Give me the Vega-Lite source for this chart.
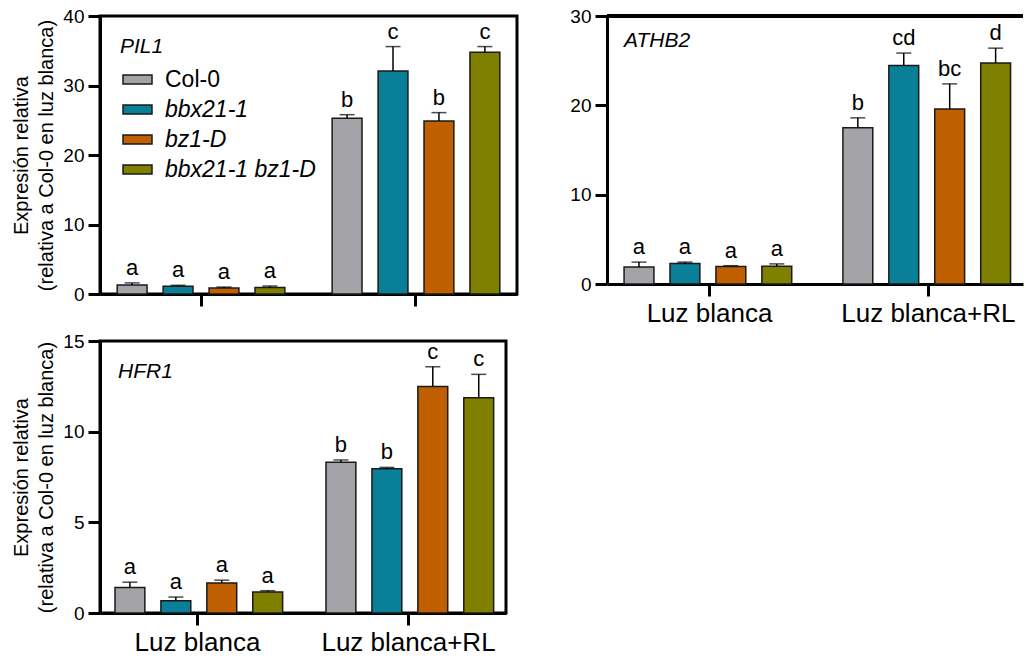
{
  "$schema": "https://vega.github.io/schema/vega-lite/v6.json",
  "padding": {"left": 10, "top": 5, "right": 0, "bottom": 0},
  "autosize": {"type": "pad"},
  "background": "white",
  "config": {
    "font": "Liberation Sans",
    "view": {"stroke": "black", "strokeWidth": 3},
    "axis": {
      "domainColor": "black", "domainWidth": 3, "tickColor": "black", "tickWidth": 3, "tickSize": 12,
      "labelFontSize": 19, "labelColor": "black", "labelPadding": 4, "grid": false,
      "titleFontSize": 20, "titleFontWeight": "normal", "titleColor": "black", "titleLineHeight": 25, "titlePadding": 6
    },
    "axisX": {"labelFontSize": 26, "labelPadding": 4, "labelAngle": 0, "title": null},
    "text": {"color": "black"},
    "title": {"anchor": "start", "frame": "group", "fontSize": 21, "fontStyle": "italic", "fontWeight": "normal", "color": "black", "baseline": "alphabetic"}
  },
  "datasets": {
    "expr": [
      {"gene": "PIL1", "light": "Luz blanca", "genotype": "Col-0", "value": 1.3, "error_top": 1.6, "letter": "a"},
      {"gene": "PIL1", "light": "Luz blanca", "genotype": "bbx21-1", "value": 1.1, "error_top": 1.25, "letter": "a"},
      {"gene": "PIL1", "light": "Luz blanca", "genotype": "bz1-D", "value": 0.85, "error_top": 1.0, "letter": "a"},
      {"gene": "PIL1", "light": "Luz blanca", "genotype": "bbx21-1 bz1-D", "value": 0.95, "error_top": 1.15, "letter": "a"},
      {"gene": "PIL1", "light": "Luz blanca+RL", "genotype": "Col-0", "value": 25.3, "error_top": 25.8, "letter": "b"},
      {"gene": "PIL1", "light": "Luz blanca+RL", "genotype": "bbx21-1", "value": 32.1, "error_top": 35.6, "letter": "c"},
      {"gene": "PIL1", "light": "Luz blanca+RL", "genotype": "bz1-D", "value": 24.9, "error_top": 26.1, "letter": "b"},
      {"gene": "PIL1", "light": "Luz blanca+RL", "genotype": "bbx21-1 bz1-D", "value": 34.8, "error_top": 35.6, "letter": "c"},
      {"gene": "ATHB2", "light": "Luz blanca", "genotype": "Col-0", "value": 1.9, "error_top": 2.45, "letter": "a"},
      {"gene": "ATHB2", "light": "Luz blanca", "genotype": "bbx21-1", "value": 2.3, "error_top": 2.45, "letter": "a"},
      {"gene": "ATHB2", "light": "Luz blanca", "genotype": "bz1-D", "value": 1.95, "error_top": 2.05, "letter": "a"},
      {"gene": "ATHB2", "light": "Luz blanca", "genotype": "bbx21-1 bz1-D", "value": 2.0, "error_top": 2.25, "letter": "a"},
      {"gene": "ATHB2", "light": "Luz blanca+RL", "genotype": "Col-0", "value": 17.5, "error_top": 18.6, "letter": "b"},
      {"gene": "ATHB2", "light": "Luz blanca+RL", "genotype": "bbx21-1", "value": 24.45, "error_top": 25.85, "letter": "cd"},
      {"gene": "ATHB2", "light": "Luz blanca+RL", "genotype": "bz1-D", "value": 19.6, "error_top": 22.4, "letter": "bc"},
      {"gene": "ATHB2", "light": "Luz blanca+RL", "genotype": "bbx21-1 bz1-D", "value": 24.75, "error_top": 26.4, "letter": "d"},
      {"gene": "HFR1", "light": "Luz blanca", "genotype": "Col-0", "value": 1.4, "error_top": 1.7, "letter": "a"},
      {"gene": "HFR1", "light": "Luz blanca", "genotype": "bbx21-1", "value": 0.68, "error_top": 0.88, "letter": "a"},
      {"gene": "HFR1", "light": "Luz blanca", "genotype": "bz1-D", "value": 1.66, "error_top": 1.81, "letter": "a"},
      {"gene": "HFR1", "light": "Luz blanca", "genotype": "bbx21-1 bz1-D", "value": 1.16, "error_top": 1.23, "letter": "a"},
      {"gene": "HFR1", "light": "Luz blanca+RL", "genotype": "Col-0", "value": 8.31, "error_top": 8.44, "letter": "b"},
      {"gene": "HFR1", "light": "Luz blanca+RL", "genotype": "bbx21-1", "value": 7.96, "error_top": 8.03, "letter": "b"},
      {"gene": "HFR1", "light": "Luz blanca+RL", "genotype": "bz1-D", "value": 12.49, "error_top": 13.58, "letter": "c"},
      {"gene": "HFR1", "light": "Luz blanca+RL", "genotype": "bbx21-1 bz1-D", "value": 11.87, "error_top": 13.16, "letter": "c"}
    ]
  },
  "resolve": {"legend": {"color": "independent"}},
  "spacing": 50,
  "hconcat": [
    {
      "spacing": 21,
      "resolve": {"legend": {"color": "independent"}},
      "vconcat": [
        {
          "width": 417, "height": 278,
          "data": {"name": "expr"},
          "transform": [{"filter": "datum.gene === 'PIL1'"}],
          "title": {"text": "PIL1", "offset": -50, "dx": 20},
          "encoding": {
            "x": {"field": "light", "type": "nominal", "sort": ["Luz blanca", "Luz blanca+RL"],
                  "scale": {"paddingInner": 0.22, "paddingOuter": 0.08},
                  "axis": {"labels": false}},
            "xOffset": {"field": "genotype", "type": "nominal", "sort": ["Col-0", "bbx21-1", "bz1-D", "bbx21-1 bz1-D"],
                        "scale": {"paddingInner": 0.35, "paddingOuter": 0}},
            "y": {"field": "value", "type": "quantitative", "scale": {"domain": [0, 40]},
                  "axis": {"values": [0, 10, 20, 30, 40], "title": ["Expresión relativa", "(relativa a Col-0 en luz blanca)"]}}
          },
          "layer": [
            {
              "mark": {"type": "bar", "stroke": "#1a1a1a", "strokeWidth": 1.5},
              "encoding": {
                "color": {"field": "genotype", "type": "nominal",
                          "scale": {"domain": ["Col-0", "bbx21-1", "bz1-D", "bbx21-1 bz1-D"], "range": ["#A3A3A8", "#0A7F98", "#C05F00", "#7F7F00"]},
                          "legend": {"orient": "none", "legendX": 22, "legendY": 48, "title": null,
                                     "symbolType": "M-1,-0.31H1V0.31H-1Z", "symbolSize": 841,
                                     "symbolStrokeColor": "#1a1a1a", "symbolStrokeWidth": 1.5,
                                     "labelFontSize": 23, "labelColor": "black", "labelOffset": 12, "rowPadding": 2,
                                     "encode": {"labels": {"update": {"fontStyle": {"signal": "datum.value === 'Col-0' ? 'normal' : 'italic'"}}}}}}
              }
            },
            {
              "mark": {"type": "rule", "color": "black", "strokeWidth": 1.5},
              "encoding": {"y2": {"field": "error_top"}}
            },
            {
              "mark": {"type": "tick", "color": "black", "size": 15, "thickness": 1.5},
              "encoding": {"y": {"field": "error_top", "type": "quantitative"}}
            },
            {
              "mark": {"type": "text", "fontSize": 22, "baseline": "alphabetic", "dy": -8},
              "encoding": {"y": {"field": "error_top", "type": "quantitative"}, "text": {"field": "letter"}}
            }
          ]
        },
        {
          "width": 406, "height": 272,
          "data": {"name": "expr"},
          "transform": [{"filter": "datum.gene === 'HFR1'"}],
          "title": {"text": "HFR1", "offset": -50, "dx": 18},
          "encoding": {
            "x": {"field": "light", "type": "nominal", "sort": ["Luz blanca", "Luz blanca+RL"],
                  "scale": {"paddingInner": 0.218, "paddingOuter": 0.071}},
            "xOffset": {"field": "genotype", "type": "nominal", "sort": ["Col-0", "bbx21-1", "bz1-D", "bbx21-1 bz1-D"],
                        "scale": {"paddingInner": 0.35, "paddingOuter": 0}},
            "y": {"field": "value", "type": "quantitative", "scale": {"domain": [0, 15]},
                  "axis": {"values": [0, 5, 10, 15], "title": ["Expresión relativa", "(relativa a Col-0 en luz blanca)"]}}
          },
          "layer": [
            {
              "mark": {"type": "bar", "stroke": "#1a1a1a", "strokeWidth": 1.5},
              "encoding": {
                "color": {"field": "genotype", "type": "nominal",
                          "scale": {"domain": ["Col-0", "bbx21-1", "bz1-D", "bbx21-1 bz1-D"], "range": ["#A3A3A8", "#0A7F98", "#C05F00", "#7F7F00"]},
                          "legend": null}
              }
            },
            {
              "mark": {"type": "rule", "color": "black", "strokeWidth": 1.5},
              "encoding": {"y2": {"field": "error_top"}}
            },
            {
              "mark": {"type": "tick", "color": "black", "size": 15, "thickness": 1.5},
              "encoding": {"y": {"field": "error_top", "type": "quantitative"}}
            },
            {
              "mark": {"type": "text", "fontSize": 22, "baseline": "alphabetic", "dy": -8},
              "encoding": {"y": {"field": "error_top", "type": "quantitative"}, "text": {"field": "letter"}}
            }
          ]
        }
      ]
    },
    {
      "width": 416, "height": 268,
      "view": {"stroke": null},
      "data": {"name": "expr"},
      "transform": [{"filter": "datum.gene === 'ATHB2'"}],
      "title": {"text": "ATHB2", "offset": -44, "dx": 17},
      "layer": [
        {
          "mark": {"type": "bar", "stroke": "#1a1a1a", "strokeWidth": 1.5},
          "encoding": {
            "x": {"field": "light", "type": "nominal", "sort": ["Luz blanca", "Luz blanca+RL"],
                  "scale": {"paddingInner": 0.219, "paddingOuter": 0.06, "align": 0.65}},
            "xOffset": {"field": "genotype", "type": "nominal", "sort": ["Col-0", "bbx21-1", "bz1-D", "bbx21-1 bz1-D"],
                        "scale": {"paddingInner": 0.35, "paddingOuter": 0}},
            "y": {"field": "value", "type": "quantitative", "scale": {"domain": [0, 30]},
                  "axis": {"values": [0, 10, 20, 30], "title": null}},
            "color": {"field": "genotype", "type": "nominal",
                      "scale": {"domain": ["Col-0", "bbx21-1", "bz1-D", "bbx21-1 bz1-D"], "range": ["#A3A3A8", "#0A7F98", "#C05F00", "#7F7F00"]},
                      "legend": null}
          }
        },
        {
          "mark": {"type": "rule", "color": "black", "strokeWidth": 1.5},
          "encoding": {
            "x": {"field": "light", "type": "nominal", "sort": ["Luz blanca", "Luz blanca+RL"]},
            "xOffset": {"field": "genotype", "type": "nominal", "sort": ["Col-0", "bbx21-1", "bz1-D", "bbx21-1 bz1-D"]},
            "y": {"field": "value", "type": "quantitative"},
            "y2": {"field": "error_top"}
          }
        },
        {
          "mark": {"type": "tick", "color": "black", "size": 15, "thickness": 1.5},
          "encoding": {
            "x": {"field": "light", "type": "nominal", "sort": ["Luz blanca", "Luz blanca+RL"]},
            "xOffset": {"field": "genotype", "type": "nominal", "sort": ["Col-0", "bbx21-1", "bz1-D", "bbx21-1 bz1-D"]},
            "y": {"field": "error_top", "type": "quantitative"}
          }
        },
        {
          "mark": {"type": "text", "fontSize": 22, "baseline": "alphabetic", "dy": -8},
          "encoding": {
            "x": {"field": "light", "type": "nominal", "sort": ["Luz blanca", "Luz blanca+RL"]},
            "xOffset": {"field": "genotype", "type": "nominal", "sort": ["Col-0", "bbx21-1", "bz1-D", "bbx21-1 bz1-D"]},
            "y": {"field": "error_top", "type": "quantitative"},
            "text": {"field": "letter"}
          }
        },
        {
          "mark": {"type": "rule", "color": "black", "strokeWidth": 3},
          "encoding": {"y": {"datum": 30, "type": "quantitative"}}
        }
      ]
    }
  ]
}
